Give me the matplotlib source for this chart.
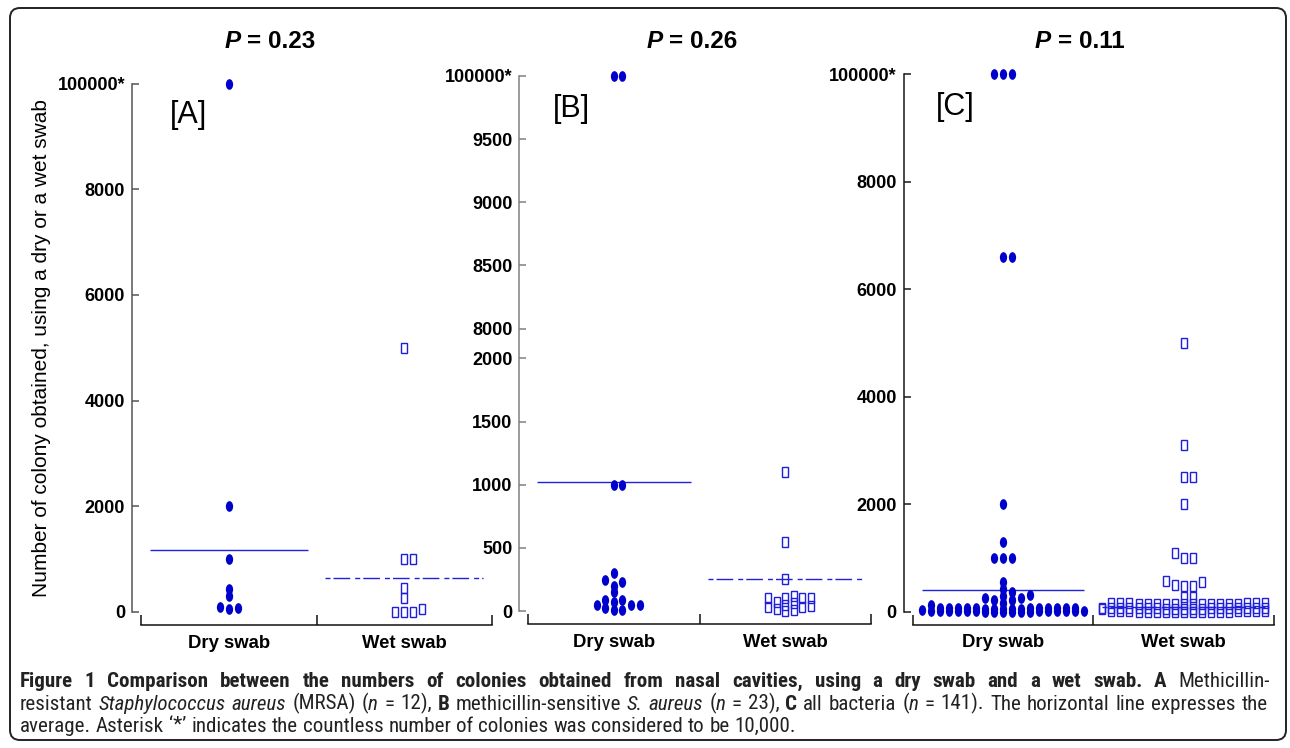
import matplotlib
matplotlib.use("Agg")
import matplotlib.pyplot as plt
import numpy as np
from matplotlib import font_manager
from matplotlib.markers import MarkerStyle
from matplotlib.patches import FancyBboxPatch
from matplotlib.transforms import Affine2D

W, H = 1290, 748

groups = ["Dry swab", "Wet swab"]
p_values = ["0.23", "0.26", "0.11"]
panel_tags = ["[A]", "[B]", "[C]"]
ylabel = "Number of colony obtained, using a dry or a wet swab"

# [A] MRSA
a_dry = [10000, 2000, 1000, 430, 300, 70, 50, 100]
a_wet = [5000, 1000, 1000, 450, 260, 0, 0, 0, 60]
a_means = [1175, 650]

# [B] MSSA
b_dry = [10000, 10000, 1000, 1000, 300, 245, 230, 200, 150,
         90, 70, 45, 25, 10, 5, 45, 45, 90]
b_wet = [1100, 550, 250, 120, 100, 100, 75, 50, 30, 15, 5,
         0, 30, 40, 60, 100, 100]
b_means = [1020, 250]

# [C] all bacteria
c_dry_top = [10000, 10000, 10000, 6600, 6600, 2000, 1300, 1000, 1000, 1000, 550, 430]
c_dry_mid = [370, 310, 250, 220, 170, 220, 250, 300]
c_dry_row2 = [60, 50, 60, 70, 50, 60, 70, 50, 60, 70, 50, 60, 70, 50, 60, 70, 120]
c_dry_row1 = [20, 10, 0, 10, 20, 0, 10, 20, 0, 10, 20, 0, 10, 20, 0, 10, 20, 30, 0]
c_wet_top = [5000, 3100, 2500, 2500, 2000, 1100, 1000, 1000, 570, 550, 500, 480, 480, 280, 280]
c_wet_row3 = [150, 160, 140, 150, 170, 150, 140, 160, 150, 150, 140, 160, 150, 170, 140, 150, 160, 150]
c_wet_row2 = [60, 70, 50, 60, 60, 70, 50, 60, 60, 70, 50, 60, 60, 70, 50, 60, 60, 70, 50]
c_wet_row1 = [0, 10, 0, 10, 0, 0, 10, 0, 10, 0, 0, 10, 0, 10, 0, 0, 10, 0, 45]
c_means = [400, 95]

ticks_full = [0, 2000, 4000, 6000, 8000, 10000]
labels_full = ["0", "2000", "4000", "6000", "8000", "100000*"]
ticks_broken = [0, 500, 1000, 1500, 2000, 8000, 8500, 9000, 9500, 10000]
labels_broken = ["0", "500", "1000", "1500", "2000", "8000", "8500", "9000", "9500", "100000*"]

caption = [
    [("Figure 1 Comparison between the numbers of colonies obtained from nasal "
      "cavities, using a dry swab and a wet swab. A", "bold"), (" Methicillin-", "normal")],
    [("resistant ", "normal"), ("Staphylococcus aureus", "italic"), (" (MRSA) (", "normal"),
     ("n", "italic"), (" = 12), ", "normal"), ("B", "bold"),
     (" methicillin-sensitive ", "normal"), ("S. aureus", "italic"), (" (", "normal"),
     ("n", "italic"), (" = 23), ", "normal"), ("C", "bold"), (" all bacteria (", "normal"),
     ("n", "italic"), (" = 141). The horizontal line expresses the", "normal")],
    [("average. Asterisk \u2018*\u2019 indicates the countless number of colonies was "
      "considered to be 10,000.", "normal")],
]

# layout (pixels)
AX_PX = [(141, 492, 83.5, 612), (528.3, 870.7, 76, 611), (912.7, 1274, 74.2, 611.7)]
TITLE_X = [270, 692, 1079.5]
TAG_XY = [(170, 115), (553, 109), (936, 107)]
SPINE_COLORS = ["#555555", "#808080", "#1a1a1a"]
SLOT = 0.05
B_GAP = 237.0

DOT = MarkerStyle("o", transform=Affine2D().scale(0.68, 1.0))
BOX = MarkerStyle("s", transform=Affine2D().scale(0.66, 1.0))
BLUE = "#0000CC"
LINE_BLUE = "#2020E0"

STYLES = {
    "normal": dict(fontweight="normal", fontstyle="normal"),
    "bold": dict(fontweight="bold", fontstyle="normal"),
    "italic": dict(fontweight="normal", fontstyle="italic"),
    "bolditalic": dict(fontweight="bold", fontstyle="italic"),
}

plt.rcParams["font.family"] = ["Liberation Sans", "DejaVu Sans"]


def pick_font(names):
    for name in names:
        try:
            font_manager.findfont(font_manager.FontProperties(family=name),
                                  fallback_to_default=False)
            return name
        except ValueError:
            continue
    return "Liberation Sans"


CAP_FONT = [pick_font(["Roboto Condensed", "Liberation Sans Narrow",
                       "Open Sans Condensed", "Liberation Sans"]), "DejaVu Sans"]

fig = plt.figure(figsize=(W / 100, H / 100), dpi=100)
renderer = fig.canvas.get_renderer()


def px_rect(left, right, top, bottom):
    return [left / W, 1 - bottom / H, (right - left) / W, (bottom - top) / H]


def b_fwd(v):
    v = np.asarray(v, dtype=float)
    mid = 2000 + (v - 2000) * B_GAP / 6000
    return np.where(v <= 2000, v, np.where(v >= 8000, v - 6000 + B_GAP, mid))


def b_inv(u):
    u = np.asarray(u, dtype=float)
    mid = 2000 + (u - 2000) * 6000 / B_GAP
    return np.where(u <= 2000, u, np.where(u >= 2000 + B_GAP, u + 6000 - B_GAP, mid))


def swarm_offsets(ax, values, thr_px=6.0, max_slot=9):
    # greedy column swarm, low values first, falls back to the roomiest slot
    values = np.asarray(values, dtype=float)
    ypix = ax.transData.transform(np.column_stack([np.zeros(len(values)), values]))[:, 1]
    cands = [0]
    for k in range(1, max_slot + 1):
        cands += [k, -k]
    slots = {}
    offs = np.zeros(len(values))
    for i in np.argsort(values, kind="stable"):
        chosen, best, best_gap = None, 0, -1.0
        for s in cands:
            gap = min((abs(ypix[i] - y) for y in slots.get(s, [])), default=np.inf)
            if gap >= thr_px:
                chosen = s
                break
            if gap > best_gap:
                best_gap, best = gap, s
        if chosen is None:
            chosen = best
        slots.setdefault(chosen, []).append(ypix[i])
        offs[i] = chosen
    return offs


def measure(txt, style, size, family):
    t = fig.text(0, 0, txt, fontsize=size, family=family, **STYLES[style])
    w = t.get_window_extent(renderer).width
    t.remove()
    return w


def split_words(runs):
    words = [[]]
    for text, style in runs:
        for j, part in enumerate(text.split(" ")):
            if j > 0:
                words.append([])
            if part:
                words[-1].append((part, style))
    return [w for w in words if w]


def natural_width(runs, size, family):
    words = split_words(runs)
    space = measure("n n", "normal", size, family) - measure("nn", "normal", size, family)
    total = sum(measure(p, s, size, family) for w in words for p, s in w)
    return total + space * (len(words) - 1)


def draw_runs(runs, x, y, size, family, align="left", justify_to=None, color="black"):
    words = split_words(runs)
    widths = [[measure(p, s, size, family) for p, s in w] for w in words]
    total = sum(sum(ws) for ws in widths)
    space = measure("n n", "normal", size, family) - measure("nn", "normal", size, family)
    if justify_to is not None and len(words) > 1:
        gap = (justify_to - x - total) / (len(words) - 1)
    else:
        gap = space
    if align == "center":
        x = x - (total + gap * (len(words) - 1)) / 2
    for w, ws in zip(words, widths):
        for (p, s), pw in zip(w, ws):
            fig.text(x / W, 1 - y / H, p, fontsize=size, family=family, color=color,
                     ha="left", va="baseline", **STYLES[s])
            x += pw
        x += gap


panels = [
    (a_dry, a_wet, a_means),
    (b_dry, b_wet, b_means),
    (c_dry_top + c_dry_mid + c_dry_row2 + c_dry_row1,
     c_wet_top + c_wet_row3 + c_wet_row2 + c_wet_row1, c_means),
]

for i, (dry, wet, means) in enumerate(panels):
    ax = fig.add_axes(px_rect(*AX_PX[i]))
    ax.set_xlim(-0.5, 1.5)
    if i == 1:
        ax.set_yscale("function", functions=(b_fwd, b_inv))
    ax.set_ylim(0, 10000)
    ax.patch.set_visible(False)

    for side in ["top", "right"]:
        ax.spines[side].set_visible(False)
    ax.spines["left"].set_position(("outward", 6.5))
    ax.spines["bottom"].set_position(("outward", 9.4))
    ax.spines["left"].set_color(SPINE_COLORS[i])
    ax.spines["left"].set_linewidth(1.1)
    ax.spines["bottom"].set_color("#111111")
    ax.spines["bottom"].set_linewidth(1.1)
    ax.tick_params(axis="y", direction="in", length=5, width=1.1, pad=5,
                   color=SPINE_COLORS[i], labelsize=13)
    ax.tick_params(axis="x", which="major", direction="in", length=7, width=1.1,
                   color="#111111")
    ax.tick_params(axis="x", which="minor", length=0, pad=7, labelsize=13.3)

    if i == 1:
        ax.set_yticks(ticks_broken, labels_broken)
    else:
        ax.set_yticks(ticks_full, labels_full)
    ax.set_xticks([-0.5, 0.5, 1.5], ["", "", ""])
    ax.set_xticks([0, 1], groups, minor=True)
    for lab in ax.get_yticklabels() + ax.get_xticklabels(minor=True):
        lab.set_fontweight("bold")

    off_dry = swarm_offsets(ax, dry)
    off_wet = swarm_offsets(ax, wet)
    ax.plot(0 + off_dry * SLOT, dry, linestyle="none", marker=DOT, ms=7.7,
            color=BLUE, mew=0, clip_on=False, zorder=3)
    ax.plot(1 + off_wet * SLOT, wet, linestyle="none", marker=BOX, ms=7,
            mfc="none", mec="#1E1EDC", mew=1.0, clip_on=False, zorder=3)

    ax.hlines(means[0], -0.45, 0.45, color=LINE_BLUE, lw=1.0, zorder=2)
    ax.hlines(means[1], 0.55, 1.45, color=LINE_BLUE, lw=1.0, zorder=2,
              linestyles=[(0, (3.6, 2.2, 12, 3.6))])

    draw_runs([("P", "bolditalic"), (" = " + p_values[i], "bold")],
              TITLE_X[i], 47.5, 17.5, "Liberation Sans", align="center")
    fig.text(TAG_XY[i][0] / W, 1 - TAG_XY[i][1] / H, panel_tags[i],
             fontsize=22, ha="left", va="center")

fig.text(42 / W, 1 - 348 / H, ylabel, rotation=90, ha="center", va="center",
         fontsize=15)

# caption: size it so the two justified lines need only a little extra spacing
size1 = 12 * 1235 / natural_width(caption[0], 12, CAP_FONT)
size2 = 12 * 1220 / natural_width(caption[1], 12, CAP_FONT)
cap_size = min(size1, size2)
draw_runs(caption[0], 20, 687, cap_size, CAP_FONT, justify_to=1270, color="#222222")
draw_runs(caption[1], 20, 709.5, cap_size, CAP_FONT, justify_to=1268, color="#222222")
draw_runs(caption[2], 20, 732, cap_size, CAP_FONT, color="#222222")

# rounded frame around the whole figure
frame = FancyBboxPatch((0.10, 0.08), 12.76, 7.32,
                       boxstyle="round,pad=0,rounding_size=0.1",
                       transform=fig.dpi_scale_trans, fill=False,
                       edgecolor="#222222", linewidth=1.4)
fig.patches.append(frame)

fig.savefig("out.png", dpi=100)
